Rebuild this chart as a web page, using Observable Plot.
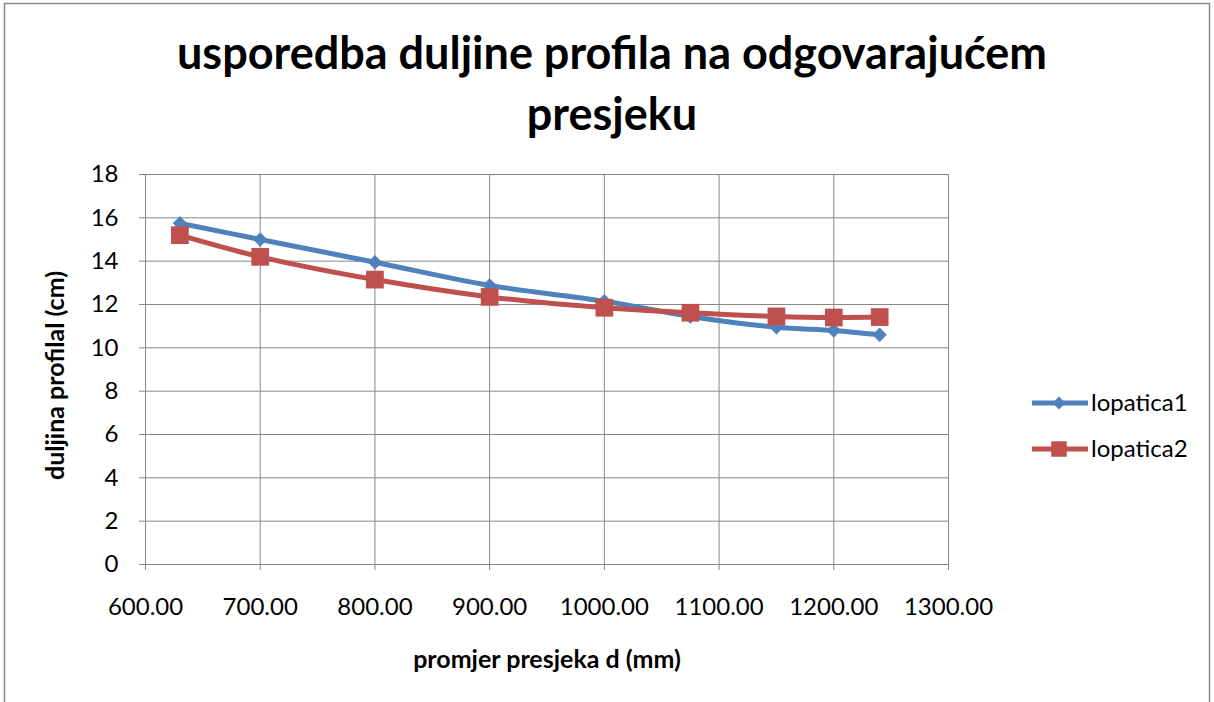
<!DOCTYPE html>
<html><head><meta charset="utf-8">
<script src="https://cdn.jsdelivr.net/npm/d3@7"></script>
<script src="https://cdn.jsdelivr.net/npm/@observablehq/plot@0.6"></script>
<style>body{margin:0;background:#fff}</style>
</head><body><div id="chart"></div>
<script>
const diameters = [630, 700, 800, 900, 1000, 1075, 1150, 1200, 1240];
const lopatica1 = [15.75, 15.0, 13.95, 12.88, 12.15, 11.45, 10.95, 10.8, 10.6];
const lopatica2 = [15.2, 14.2, 13.15, 12.35, 11.85, 11.62, 11.45, 11.4, 11.42];
const seriesNames = ["lopatica1", "lopatica2"];
const seriesColors = ["#4F81BD", "#C0504D"];
const seriesSymbols = ["diamond2", "square"];
const xTicks = [600, 700, 800, 900, 1000, 1100, 1200, 1300];
const yTicks = [0, 2, 4, 6, 8, 10, 12, 14, 16, 18];
const titleLines = ["usporedba duljine profila na odgovarajućem", "presjeku"];
const xLabel = "promjer presjeka d (mm)";
const yLabel = "duljina profilal (cm)";

const seriesValues = [lopatica1, lopatica2];
const rows = seriesNames.flatMap((s, i) => diameters.map((d, j) => ({series: s, d, v: seriesValues[i][j]})));

const font = "Lato, 'Open Sans', sans-serif";
const grid = "#878787";

const chart = Plot.plot({
  width: 1214, height: 702,
  marginLeft: 145, marginRight: 266, marginTop: 174, marginBottom: 138,
  style: {fontFamily: font, background: "#fff", overflow: "visible", color: "#000"},
  x: {domain: [600, 1300], label: null},
  y: {domain: [0, 18], label: null},
  color: {domain: seriesNames, range: seriesColors},
  marks: [
    Plot.gridX(xTicks, {stroke: grid, strokeOpacity: 1}),
    Plot.gridY(yTicks, {stroke: grid, strokeOpacity: 1}),
    Plot.frame({stroke: grid}),
    Plot.axisX({ticks: xTicks, tickFormat: d3.format(".2f"), tickSize: 6, tickPadding: 27, fontSize: 24, stroke: grid, fill: "#000", label: null}),
    Plot.axisY({ticks: yTicks, tickSize: 6, tickPadding: 21, fontSize: 24, stroke: grid, fill: "#000", label: null}),
    Plot.line(rows, {x: "d", y: "v", stroke: "series", strokeWidth: 5, curve: "catmull-rom"}),
    Plot.dot(rows.filter(r => r.series === seriesNames[0]), {x: "d", y: "v", fill: "series", symbol: () => seriesSymbols[0], r: 6.5}),
    Plot.dot(rows.filter(r => r.series === seriesNames[1]), {x: "d", y: "v", fill: "series", symbol: () => seriesSymbols[1], r: 10}),
    Plot.text([titleLines[0]], {frameAnchor: "top", lineAnchor: "top", dx: 65, dy: -137, fontSize: 45, fontWeight: "bold", fill: "#000"}),
    Plot.text([titleLines[1]], {frameAnchor: "top", lineAnchor: "top", dx: 65, dy: -76, fontSize: 45, fontWeight: "bold", fill: "#000"}),
    Plot.text([xLabel], {frameAnchor: "bottom", lineAnchor: "middle", dy: 95, fontSize: 25, fontWeight: "bold", fill: "#000"}),
    Plot.text([yLabel], {frameAnchor: "left", textAnchor: "middle", lineAnchor: "middle", dx: -90, dy: 6, rotate: -90, fontSize: 25, fontWeight: "bold", fill: "#000"})
  ]
});
document.getElementById("chart").appendChild(chart);

// outer border and legend
const svg = d3.select(chart);
svg.insert("rect", ":first-child").attr("x", 4.5).attr("y", 3.5).attr("width", 1205).attr("height", 702)
  .attr("fill", "none").attr("stroke", "#8a8a8a").attr("stroke-width", 1.5);
const legend = svg.append("g").attr("font-family", font).attr("font-size", 24).attr("text-anchor", "start");
seriesNames.forEach((name, i) => {
  const y = 403 + i * 46;
  const g = legend.append("g").attr("transform", `translate(1032,${y})`);
  g.append("line").attr("x1", 0).attr("x2", 56).attr("stroke", seriesColors[i]).attr("stroke-width", 5);
  const sym = i === 0 ? d3.symbolDiamond2 : d3.symbolSquare;
  g.append("path").attr("transform", "translate(27,0)").attr("d", d3.symbol(sym, i === 0 ? 110 : 240)()).attr("fill", seriesColors[i]);
  g.append("text").attr("x", 59).attr("dy", "0.35em").attr("fill", "#000").text(name);
});
</script>
</body></html>
